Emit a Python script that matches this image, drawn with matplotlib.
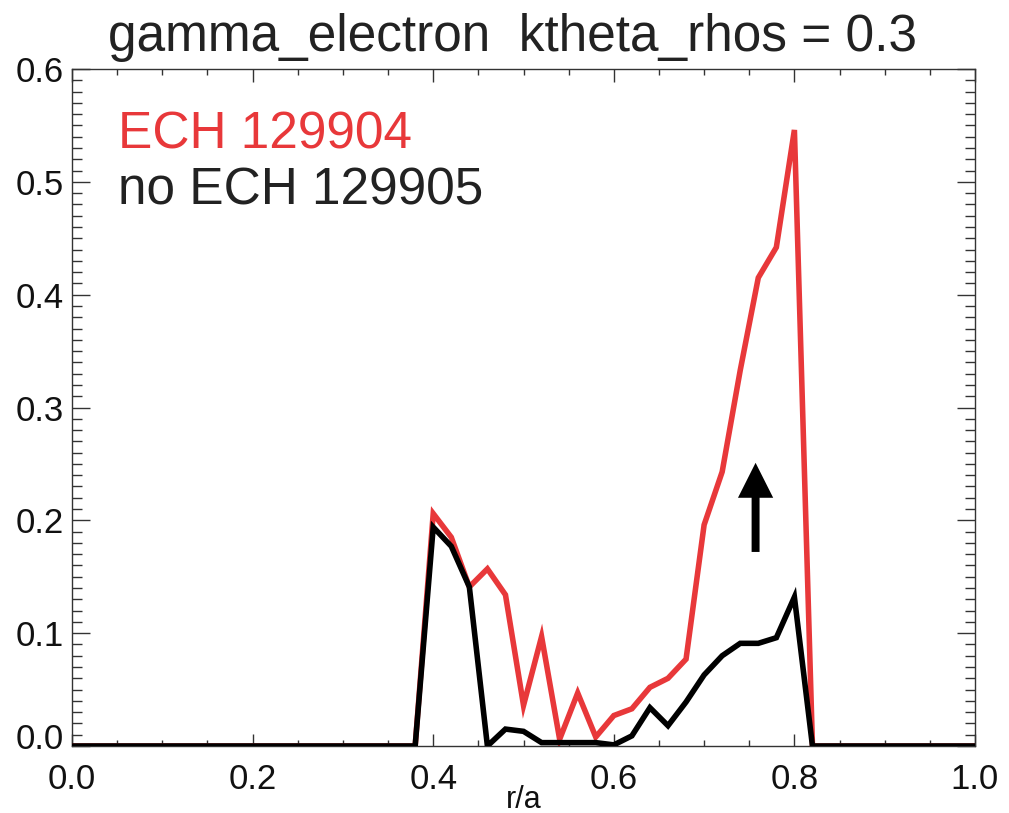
import matplotlib
matplotlib.use("Agg")
import matplotlib.pyplot as plt
import matplotlib.transforms as mtransforms
from matplotlib.ticker import MultipleLocator

plt.rcParams['font.family'] = ['Liberation Sans', 'DejaVu Sans']

# radial grid (r/a) and growth rates
r_a = [0.00, 0.38, 0.40, 0.42, 0.44, 0.46, 0.48, 0.50, 0.52, 0.54, 0.56,
       0.58, 0.60, 0.62, 0.64, 0.66, 0.68, 0.70, 0.72, 0.74, 0.76, 0.78,
       0.80, 0.82, 1.00]
gamma_ech = [0.000, 0.000, 0.206, 0.185, 0.141, 0.157, 0.134, 0.036, 0.097,
             0.006, 0.047, 0.008, 0.027, 0.033, 0.052, 0.060, 0.077, 0.196,
             0.243, 0.333, 0.415, 0.442, 0.546, 0.000, 0.000]
gamma_no_ech = [0.000, 0.000, 0.194, 0.177, 0.141, 0.000, 0.015, 0.013, 0.003,
                0.003, 0.003, 0.003, 0.001, 0.009, 0.034, 0.018, 0.039, 0.063,
                0.080, 0.091, 0.091, 0.096, 0.132, 0.000, 0.000]

labels = ["ECH 129904", "no ECH 129905"]
colors = ["#E8383A", "#000000"]

# arrow marking the increase with ECH
arrow_r = 0.757
arrow_from = 0.172
arrow_to = 0.251

fig = plt.figure(figsize=(10.09, 8.13), dpi=100)
ax = fig.add_axes([0.0714, 0.0824, 0.8949, 0.8327])

ax.plot(r_a, gamma_ech, color=colors[0], lw=4.0, solid_joinstyle='miter', zorder=3)
ax.plot(r_a, gamma_no_ech, color=colors[1], lw=4.0, solid_joinstyle='miter', zorder=4)

ax.arrow(arrow_r, arrow_from, 0, arrow_to - arrow_from, width=0.0088,
         head_width=0.039, head_length=0.031, length_includes_head=True,
         color='black', lw=0, zorder=5)

ax.set_xlim(0.0, 1.0)
ax.set_ylim(0.0, 0.6)

ax.xaxis.set_major_locator(MultipleLocator(0.2))
ax.xaxis.set_minor_locator(MultipleLocator(0.05))
ax.yaxis.set_major_locator(MultipleLocator(0.1))
ax.yaxis.set_minor_locator(MultipleLocator(0.01))
ax.xaxis.set_major_formatter(plt.FuncFormatter(lambda v, p: f"{v:.1f}"))
# the 0.0 label on y is drawn separately, lifted off the x axis
ax.yaxis.set_major_formatter(plt.FuncFormatter(
    lambda v, p: "" if abs(v) < 1e-9 else f"{v:.1f}"))

ax.tick_params(which='both', direction='in', top=True, right=True,
               color='#333333', width=1.0, labelsize=25, colors='#111111')
ax.tick_params(axis='x', which='major', length=9, pad=12)
ax.tick_params(axis='x', which='minor', length=4)
ax.tick_params(axis='y', which='major', length=13, pad=6)
ax.tick_params(axis='y', which='minor', length=7)
for s in ax.spines.values():
    s.set_color('#333333')
    s.set_linewidth(1.0)

zero_offset = mtransforms.ScaledTranslation(-6 / 72, 10 / 100, fig.dpi_scale_trans)
ax.text(0.0, 0.0, "0.0", transform=ax.get_yaxis_transform() + zero_offset,
        fontsize=25, color='#111111', ha='right', va='center_baseline')

fig.text(0.5186, 1 - 800 / 813, "r/a", fontsize=22, color='#111111',
         ha='center', va='center')
fig.text(0.5076, 1 - 38 / 813, "gamma_electron  ktheta_rhos = 0.3",
         fontsize=37, color='#222222', ha='center', va='center')

ax.text(0.051, 0.903, labels[0], transform=ax.transAxes, color=colors[0],
        fontsize=37, va='center', ha='left')
ax.text(0.051, 0.82, labels[1], transform=ax.transAxes, color='#222222',
        fontsize=37, va='center', ha='left')

fig.savefig("out.png", dpi=100)
